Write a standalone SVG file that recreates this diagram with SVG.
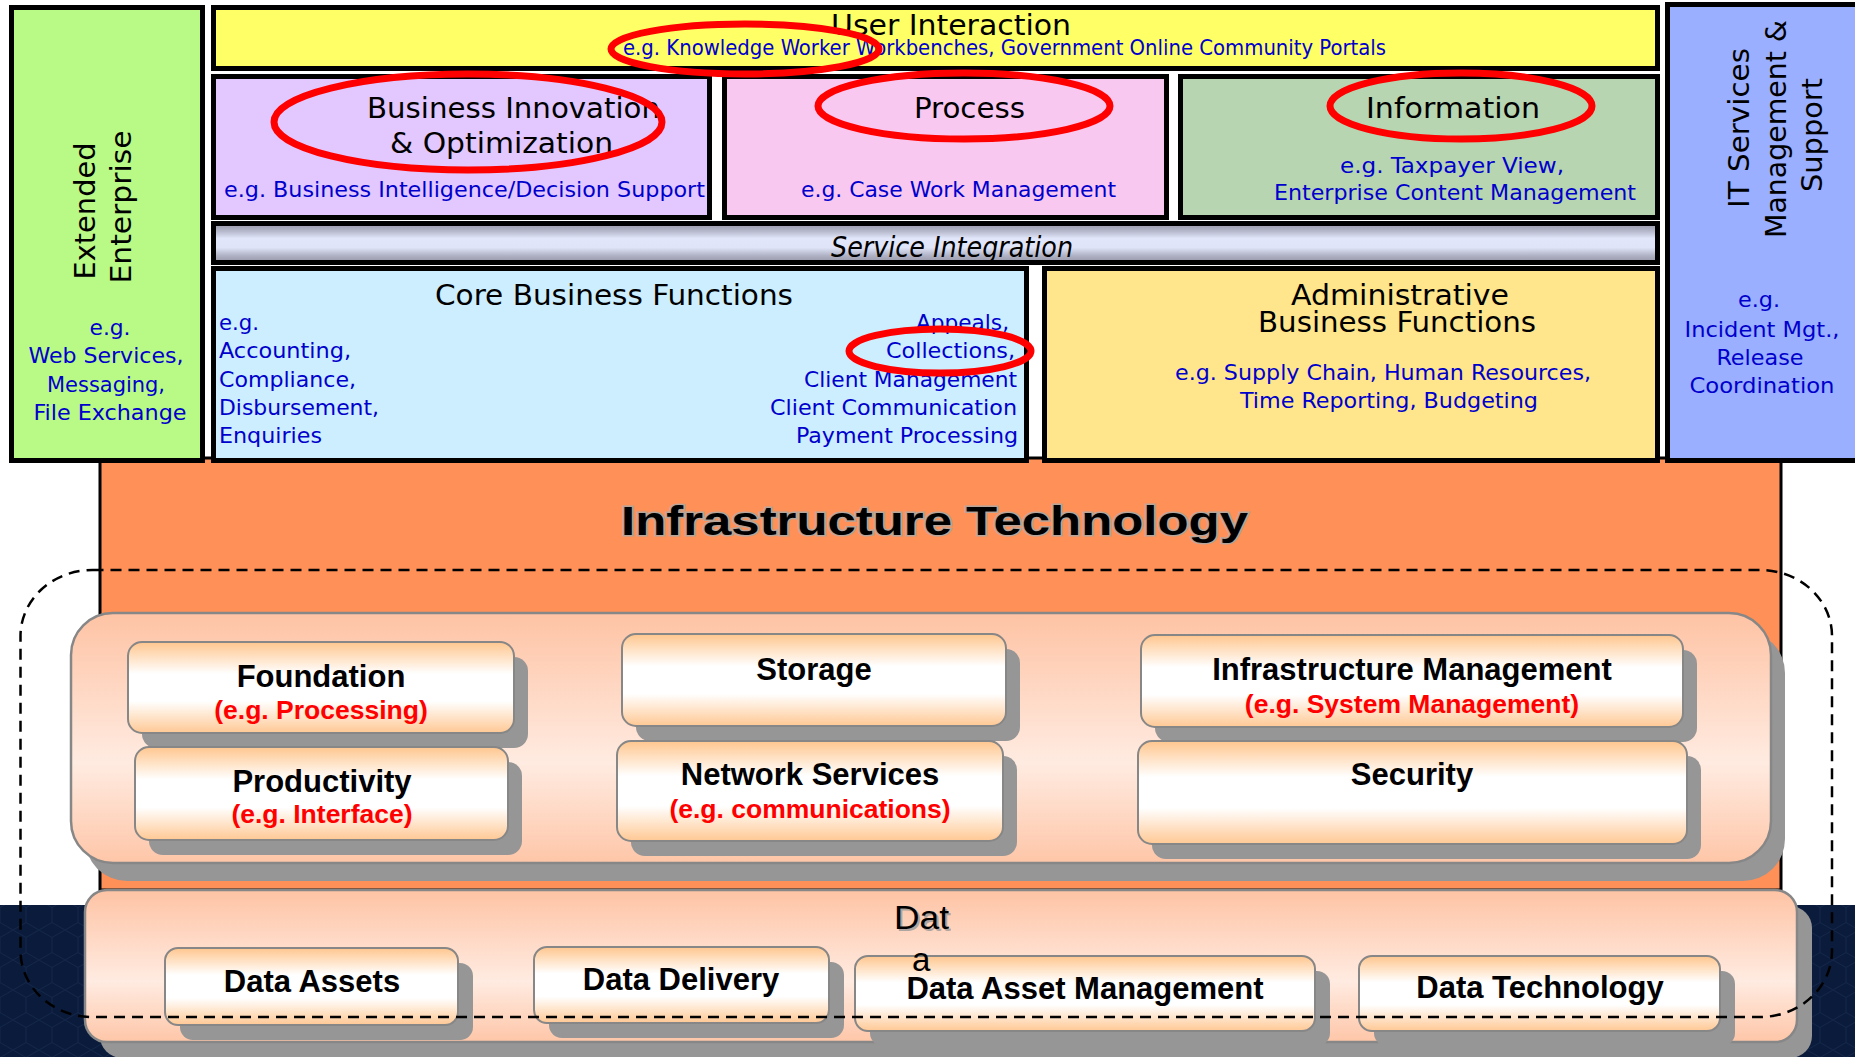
<svg xmlns="http://www.w3.org/2000/svg" width="1855" height="1057" viewBox="0 0 1855 1057">
<style>
.box{stroke:#000;stroke-width:5}
.t{font-family:"DejaVu Sans Condensed","DejaVu Sans",Verdana,sans-serif;font-size:28px;fill:#000}
.eg{font-family:"DejaVu Sans Condensed","DejaVu Sans",Verdana,sans-serif;font-size:22px;fill:#0000CC}
.vt{font-family:"DejaVu Sans",Verdana,sans-serif;font-size:29px;fill:#000;text-anchor:middle}
.ib{font-family:"Liberation Sans",Arial,sans-serif;font-weight:bold;font-size:31px;fill:#000;text-anchor:middle}
.ir{font-family:"Liberation Sans",Arial,sans-serif;font-weight:bold;font-size:26.5px;fill:#FF0000;text-anchor:middle}
.ell{fill:none;stroke:#FF0000;stroke-width:7}
.sh{fill:#969696}
.btn{fill:url(#gBtn);stroke:#878787;stroke-width:2}
.mid{text-anchor:middle}
.end{text-anchor:end}
</style>
<defs>
<linearGradient id="gSvc" x1="0" y1="0" x2="0" y2="1">
<stop offset="0" stop-color="#9696a8"/>
<stop offset="0.2" stop-color="#b6b9cc"/>
<stop offset="0.38" stop-color="#e2e6fa"/>
<stop offset="0.62" stop-color="#e0e4f8"/>
<stop offset="0.82" stop-color="#b0b3c5"/>
<stop offset="1" stop-color="#9595a6"/>
</linearGradient>
<linearGradient id="gPanel" x1="0" y1="0" x2="0" y2="1">
<stop offset="0" stop-color="#fec3a4"/>
<stop offset="0.6" stop-color="#ffebe1"/>
<stop offset="1" stop-color="#fec6a8"/>
</linearGradient>
<linearGradient id="gBtn" x1="0" y1="0" x2="0" y2="1">
<stop offset="0" stop-color="#ffc68e"/>
<stop offset="0.35" stop-color="#ffffff"/>
<stop offset="0.65" stop-color="#ffffff"/>
<stop offset="1" stop-color="#ffc894"/>
</linearGradient>
<pattern id="hex" width="26" height="30" patternUnits="userSpaceOnUse">
<rect width="26" height="30" fill="#0b1b3b"/>
<path d="M13 0 L26 7.5 L26 22.5 L13 30 L0 22.5 L0 7.5 Z" fill="none" stroke="#14274a" stroke-width="1"/>
</pattern>
</defs>

<rect x="0" y="0" width="1855" height="1057" fill="#ffffff"/>
<rect x="0" y="905" width="1855" height="152" fill="url(#hex)"/>

<!-- Infrastructure Technology background -->
<g id="infrastructure">
<rect x="100" y="458" width="1681" height="432" fill="#FF9058" stroke="#000" stroke-width="3"/>
<text x="621" y="535" font-family="Liberation Sans,Arial,sans-serif" font-weight="bold" font-size="40" fill="#b8a59a" stroke="#b8a59a" stroke-width="3" textLength="627" lengthAdjust="spacingAndGlyphs">Infrastructure Technology</text>
<text x="621" y="535" font-family="Liberation Sans,Arial,sans-serif" font-weight="bold" font-size="40" fill="#000" textLength="627" lengthAdjust="spacingAndGlyphs">Infrastructure Technology</text>
</g>

<!-- Top layer -->
<g id="extended-enterprise">
<rect class="box" x="11.5" y="7.5" width="191" height="453" fill="#B9F986"/>
<text class="vt" transform="translate(95,211) rotate(-90)" textLength="137" lengthAdjust="spacingAndGlyphs">Extended</text>
<text class="vt" transform="translate(131,207) rotate(-90)" textLength="153" lengthAdjust="spacingAndGlyphs">Enterprise</text>
<text class="eg mid" x="110" y="335" textLength="41" lengthAdjust="spacingAndGlyphs">e.g.</text>
<text class="eg mid" x="106" y="363" textLength="155" lengthAdjust="spacingAndGlyphs">Web Services,</text>
<text class="eg mid" x="106" y="392" textLength="118" lengthAdjust="spacingAndGlyphs">Messaging,</text>
<text class="eg mid" x="110" y="420" textLength="153" lengthAdjust="spacingAndGlyphs">File Exchange</text>
</g>

<g id="user-interaction">
<rect class="box" x="213.5" y="7.5" width="1444" height="61" fill="#FFFF66"/>
<text class="t" x="831" y="35" textLength="240" lengthAdjust="spacingAndGlyphs">User Interaction</text>
<text class="eg" x="623" y="55" font-size="21" textLength="763" lengthAdjust="spacingAndGlyphs">e.g. Knowledge Worker Workbenches, Government Online Community Portals</text>
</g>

<g id="business-innovation">
<rect class="box" x="213.5" y="76.5" width="496" height="141" fill="#E2C8FE"/>
<text class="t" x="367" y="118" textLength="293" lengthAdjust="spacingAndGlyphs">Business Innovation</text>
<text class="t" x="390" y="153" textLength="223" lengthAdjust="spacingAndGlyphs">&amp; Optimization</text>
<text class="eg" x="224" y="197" textLength="481" lengthAdjust="spacingAndGlyphs">e.g. Business Intelligence/Decision Support</text>
</g>

<g id="process">
<rect class="box" x="724.5" y="76.5" width="442" height="141" fill="#F9C8F1"/>
<text class="t" x="914" y="118" textLength="111" lengthAdjust="spacingAndGlyphs">Process</text>
<text class="eg" x="801" y="197" textLength="315" lengthAdjust="spacingAndGlyphs">e.g. Case Work Management</text>
</g>

<g id="information">
<rect class="box" x="1180.5" y="76.5" width="477" height="141" fill="#B8D5B1"/>
<text class="t" x="1366" y="118" textLength="174" lengthAdjust="spacingAndGlyphs">Information</text>
<text class="eg" x="1340" y="173" textLength="224" lengthAdjust="spacingAndGlyphs">e.g. Taxpayer View,</text>
<text class="eg" x="1274" y="200" textLength="362" lengthAdjust="spacingAndGlyphs">Enterprise Content Management</text>
</g>

<g id="service-integration">
<rect class="box" x="213.5" y="223.5" width="1444" height="39" fill="url(#gSvc)"/>
<text class="t" x="831" y="257" font-size="25" font-style="italic" textLength="242" lengthAdjust="spacingAndGlyphs">Service Integration</text>
</g>

<g id="core-business">
<rect class="box" x="213.5" y="268.5" width="813" height="192" fill="#CCEEFE"/>
<text class="t" x="435" y="305" textLength="358" lengthAdjust="spacingAndGlyphs">Core Business Functions</text>
<text class="eg" x="219" y="330" textLength="40" lengthAdjust="spacingAndGlyphs">e.g.</text>
<text class="eg" x="219" y="358" textLength="132" lengthAdjust="spacingAndGlyphs">Accounting,</text>
<text class="eg" x="219" y="387" textLength="137" lengthAdjust="spacingAndGlyphs">Compliance,</text>
<text class="eg" x="219" y="415" textLength="160" lengthAdjust="spacingAndGlyphs">Disbursement,</text>
<text class="eg" x="219" y="443" textLength="103" lengthAdjust="spacingAndGlyphs">Enquiries</text>
<text class="eg end" x="1009" y="330" textLength="93" lengthAdjust="spacingAndGlyphs">Appeals,</text>
<text class="eg end" x="1015" y="358" textLength="129" lengthAdjust="spacingAndGlyphs">Collections,</text>
<text class="eg end" x="1017" y="387" textLength="213" lengthAdjust="spacingAndGlyphs">Client Management</text>
<text class="eg end" x="1017" y="415" textLength="247" lengthAdjust="spacingAndGlyphs">Client Communication</text>
<text class="eg end" x="1018" y="443" textLength="222" lengthAdjust="spacingAndGlyphs">Payment Processing</text>
</g>

<g id="administrative-business">
<rect class="box" x="1044.5" y="268.5" width="613" height="192" fill="#FFE68C"/>
<text class="t" x="1291" y="305" textLength="218" lengthAdjust="spacingAndGlyphs">Administrative</text>
<text class="t" x="1258" y="332" textLength="278" lengthAdjust="spacingAndGlyphs">Business Functions</text>
<text class="eg" x="1175" y="380" textLength="416" lengthAdjust="spacingAndGlyphs">e.g. Supply Chain, Human Resources,</text>
<text class="eg" x="1240" y="408" textLength="298" lengthAdjust="spacingAndGlyphs">Time Reporting, Budgeting</text>
</g>

<g id="it-services">
<rect class="box" x="1667.5" y="4.5" width="200" height="456" fill="#9AAFFF"/>
<text class="vt" transform="translate(1749,128) rotate(-90)" textLength="160" lengthAdjust="spacingAndGlyphs">IT Services</text>
<text class="vt" transform="translate(1786,129) rotate(-90)" textLength="218" lengthAdjust="spacingAndGlyphs">Management &amp;</text>
<text class="vt" transform="translate(1822,135) rotate(-90)" textLength="114" lengthAdjust="spacingAndGlyphs">Support</text>
<text class="eg mid" x="1759" y="307" textLength="42" lengthAdjust="spacingAndGlyphs">e.g.</text>
<text class="eg mid" x="1762" y="337" textLength="155" lengthAdjust="spacingAndGlyphs">Incident Mgt.,</text>
<text class="eg mid" x="1760" y="365" textLength="87" lengthAdjust="spacingAndGlyphs">Release</text>
<text class="eg mid" x="1762" y="393" textLength="145" lengthAdjust="spacingAndGlyphs">Coordination</text>
</g>

<!-- Infrastructure panel -->
<g id="infra-panel">
<rect class="sh" x="85" y="631" width="1700" height="250" rx="42"/>
<rect x="71" y="613" width="1700" height="250" rx="42" fill="url(#gPanel)" stroke="#878787" stroke-width="2.5"/>
</g>

<g id="foundation">
<rect class="sh" x="142" y="657" width="386" height="91" rx="14"/>
<rect class="btn" x="128" y="642" width="386" height="91" rx="14"/>
<text class="ib" x="321" y="687">Foundation</text>
<text class="ir" x="321" y="719">(e.g. Processing)</text>
</g>

<g id="productivity">
<rect class="sh" x="149" y="762" width="373" height="93" rx="14"/>
<rect class="btn" x="135" y="747" width="373" height="93" rx="14"/>
<text class="ib" x="322" y="792">Productivity</text>
<text class="ir" x="322" y="823">(e.g. Interface)</text>
</g>

<g id="storage">
<rect class="sh" x="636" y="649" width="384" height="92" rx="14"/>
<rect class="btn" x="622" y="634" width="384" height="92" rx="14"/>
<text class="ib" x="814" y="680">Storage</text>
</g>

<g id="network-services">
<rect class="sh" x="631" y="756" width="386" height="100" rx="14"/>
<rect class="btn" x="617" y="741" width="386" height="100" rx="14"/>
<text class="ib" x="810" y="785">Network Services</text>
<text class="ir" x="810" y="818">(e.g. communications)</text>
</g>

<g id="infrastructure-management">
<rect class="sh" x="1155" y="650" width="542" height="92" rx="14"/>
<rect class="btn" x="1141" y="635" width="542" height="92" rx="14"/>
<text class="ib" x="1412" y="680">Infrastructure Management</text>
<text class="ir" x="1412" y="713">(e.g. System Management)</text>
</g>

<g id="security">
<rect class="sh" x="1152" y="756" width="549" height="103" rx="14"/>
<rect class="btn" x="1138" y="741" width="549" height="103" rx="14"/>
<text class="ib" x="1412" y="785">Security</text>
</g>

<!-- Data panel -->
<g id="data-panel">
<rect class="sh" x="100" y="906" width="1712" height="152" rx="22"/>
<rect x="85" y="890" width="1712" height="152" rx="22" fill="url(#gPanel)" stroke="#878787" stroke-width="2.5"/>
</g>

<g id="data-assets">
<rect class="sh" x="180" y="963" width="293" height="77" rx="13"/>
<rect class="btn" x="165" y="948" width="293" height="77" rx="13"/>
<text class="ib" x="312" y="992">Data Assets</text>
</g>

<g id="data-delivery">
<rect class="sh" x="549" y="962" width="295" height="76" rx="13"/>
<rect class="btn" x="534" y="947" width="295" height="76" rx="13"/>
<text class="ib" x="681" y="990">Data Delivery</text>
</g>

<g id="data-label">
<text x="894" y="929" font-family="Liberation Sans,Arial,sans-serif" font-size="33" fill="#9a9a9a" opacity="0.8" textLength="55" lengthAdjust="spacingAndGlyphs" transform="translate(2,2)">Dat</text>
<text x="894" y="929" font-family="Liberation Sans,Arial,sans-serif" font-size="33" fill="#000" textLength="55" lengthAdjust="spacingAndGlyphs">Dat</text>
</g>

<g id="data-asset-management">
<rect class="sh" x="870" y="971" width="460" height="75" rx="13"/>
<rect class="btn" x="855" y="956" width="460" height="75" rx="13"/>
<text x="912" y="971" font-family="Liberation Sans,Arial,sans-serif" font-size="33" fill="#000">a</text>
<text class="ib" x="1085" y="999">Data Asset Management</text>
</g>

<g id="data-technology">
<rect class="sh" x="1374" y="971" width="361" height="75" rx="13"/>
<rect class="btn" x="1359" y="956" width="361" height="75" rx="13"/>
<text class="ib" x="1540" y="998">Data Technology</text>
</g>

<!-- Highlight ellipses -->
<g id="highlights">
<ellipse class="ell" cx="745" cy="49" rx="134" ry="25"/>
<ellipse class="ell" cx="468" cy="122" rx="194" ry="48"/>
<ellipse class="ell" cx="964" cy="106" rx="146" ry="33"/>
<ellipse class="ell" cx="1461" cy="106" rx="131" ry="33"/>
<ellipse class="ell" cx="940" cy="351" rx="91" ry="22"/>
</g>

<!-- Dashed boundary -->
<g id="connectors">
<rect x="20.5" y="570" width="1811.5" height="447" rx="72" ry="66" fill="none" stroke="#000" stroke-width="2.5" stroke-dasharray="11 7"/>
</g>
</svg>
